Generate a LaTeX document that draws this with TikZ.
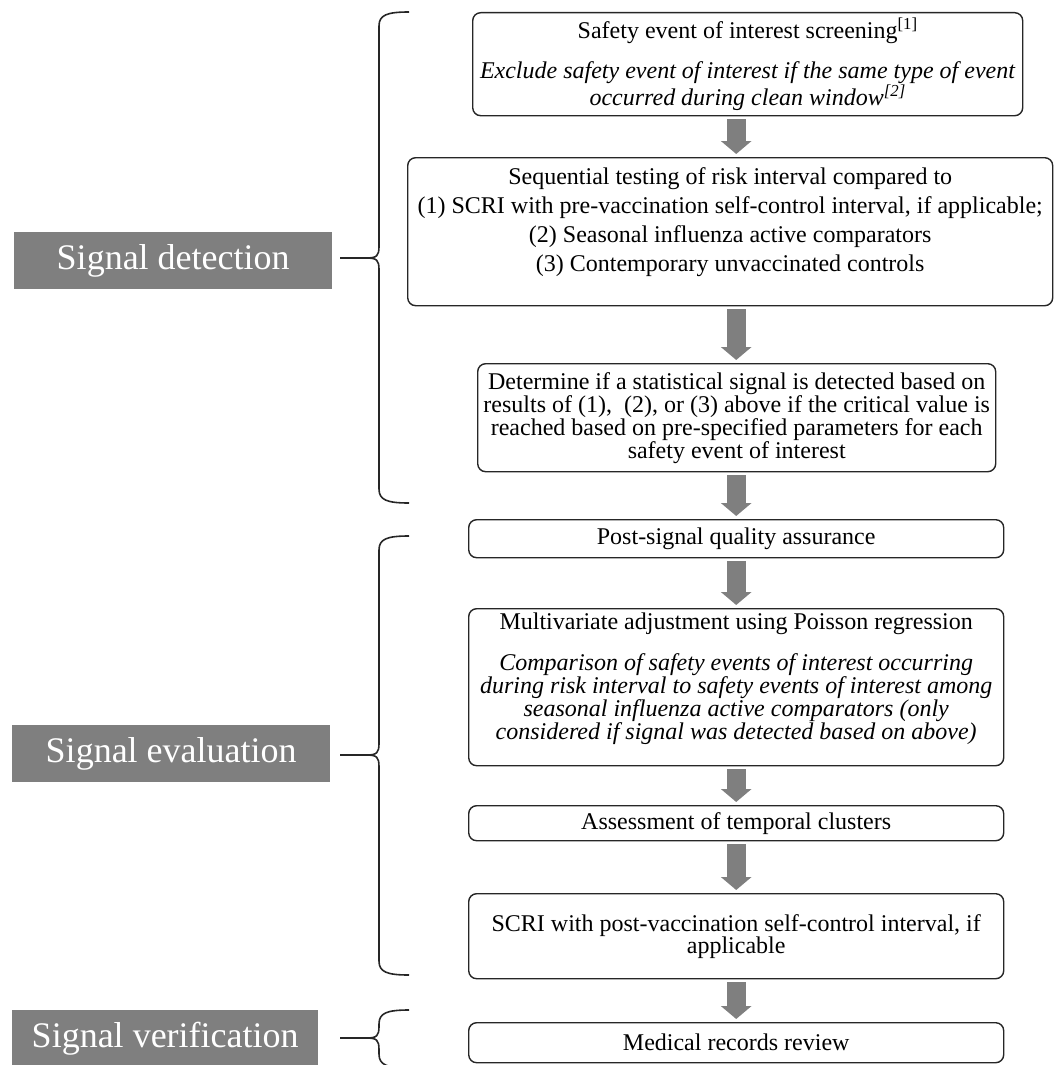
\documentclass[tikz,border=0pt]{standalone}
\usepackage{fontspec}
\setmainfont{Liberation Serif}
\usetikzlibrary{arrows.meta}
\definecolor{gris}{HTML}{7F7F7F}
\begin{document}
\begin{tikzpicture}[x=1pt,y=-1pt]
% Styles
\tikzstyle{boite}=[draw=black!85,line width=1.4pt,rounded corners=8pt,align=center,inner sep=0pt,anchor=north west,font=\fontsize{24}{22}\selectfont]
\tikzstyle{fleche}=[-{Triangle[length=13pt,width=30pt]},line width=19pt,draw=gris,shorten <=3pt,shorten >=3pt]
\tikzstyle{etiquette}=[fill=gris,text=white,inner sep=0pt,anchor=north west,minimum height=57pt,font=\fontsize{36}{40}\selectfont]
\tikzstyle{accolade}=[draw=black!85,line width=1.6pt]
% Accolade : haut, bas, pointe
\def\Accolade#1#2#3{%
\draw[accolade] (409,#1) .. controls (387,#1) and (379,#1+3) .. (379,#1+14) -- (379,#3-12)
  .. controls (379,#3-2) and (377,#3) .. (366,#3) -- (340,#3) -- (366,#3)
  .. controls (377,#3) and (379,#3+2) .. (379,#3+12) -- (379,#2-14)
  .. controls (379,#2-3) and (387,#2) .. (409,#2);}
% Cadre de l'image
\useasboundingbox (0,0) rectangle (1054,1065);
% Etapes
\node[boite,minimum width=550pt,minimum height=103pt] (b1) at (472,12)
  {Safety event of interest screening\textsuperscript{[1]}\\[17pt]
  \textit{Exclude safety event of interest if the same type of event}\\
  \textit{occurred during clean window\textsuperscript{[2]}}};
\node[boite,minimum width=645pt,minimum height=148pt,font=\fontsize{24}{29}\selectfont] (b2) at (407,157)
  {Sequential testing of risk interval compared to\\
  (1) SCRI with pre-vaccination self-control interval, if applicable;\\
  (2) Seasonal influenza active comparators\\
  (3) Contemporary unvaccinated controls\rule[-25pt]{0pt}{1pt}};
\node[boite,minimum width=518pt,minimum height=108pt] (b3) at (477,363)
  {Determine if a statistical signal is detected based on\\
  results of (1),\ \ (2), or (3) above if the critical value is\\
  reached based on pre-specified parameters for each\\
  safety event of interest};
\node[boite,minimum width=535pt,minimum height=38pt] (b4) at (468,519)
  {Post-signal quality assurance};
\node[boite,minimum width=535pt,minimum height=157pt] (b5) at (468,608)
  {Multivariate adjustment using Poisson regression\\[18pt]
  \textit{Comparison of safety events of interest occurring}\\
  \textit{during risk interval to safety events of interest among}\\
  \textit{seasonal influenza active comparators (only}\\
  \textit{considered if signal was detected based on above)}\rule[-22pt]{0pt}{1pt}};
\node[boite,minimum width=535pt,minimum height=35pt] (b6) at (468,805)
  {Assessment of temporal clusters};
\node[boite,minimum width=535pt,minimum height=85pt] (b7) at (468,893)
  {SCRI with post-vaccination self-control interval, if\\ applicable};
\node[boite,minimum width=535pt,minimum height=40pt] (b8) at (468,1022)
  {Medical records review};
% Fleches
\draw[fleche] (b1.south -| b4) -- (b2.north -| b4);
\draw[fleche] (b2.south -| b4) -- (b3.north -| b4);
\draw[fleche] (b3.south -| b4) -- (b4.north);
\draw[fleche] (b4.south) -- (b5.north -| b4);
\draw[fleche] (b5.south -| b4) -- (b6.north -| b4);
\draw[fleche] (b6.south -| b4) -- (b7.north -| b4);
\draw[fleche] (b7.south -| b4) -- (b8.north -| b4);
% Phases
\node[etiquette,minimum width=318pt] (detection) at (14,232) {Signal detection};
\node[etiquette,minimum width=318pt] (evaluation) at (12,725) {Signal evaluation};
\node[etiquette,minimum width=306pt] (verification) at (12,1010) {Signal verification};
\Accolade{12}{503}{258}
\Accolade{536}{975}{755}
\Accolade{1010}{1068}{1038}
\end{tikzpicture}
\end{document}
